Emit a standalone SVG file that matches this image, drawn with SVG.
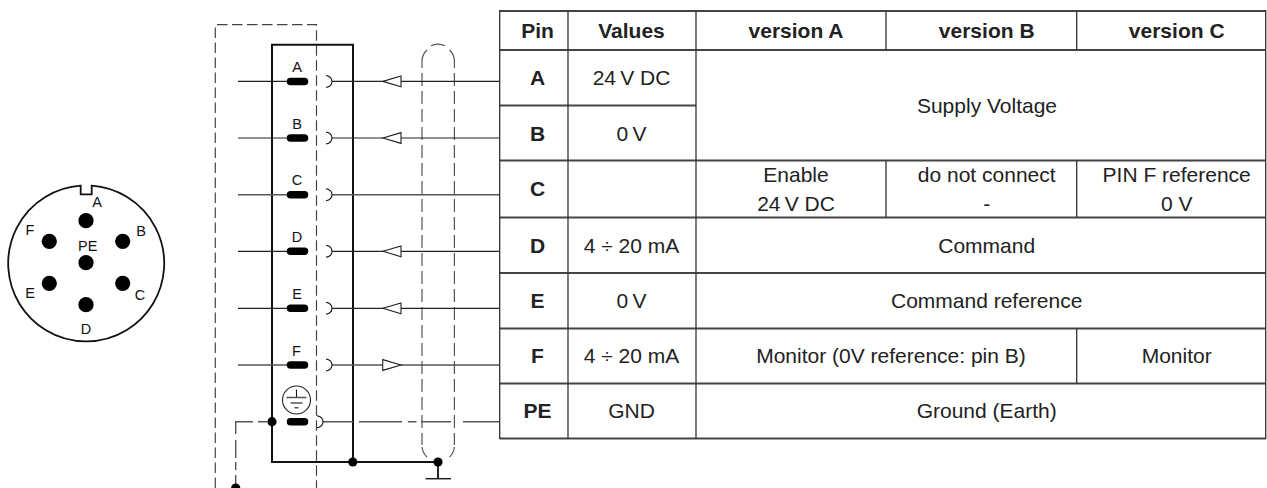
<svg xmlns="http://www.w3.org/2000/svg" width="1267" height="488" viewBox="0 0 1267 488">
<style>
text{font-family:"Liberation Sans",Arial,sans-serif;fill:#222;text-anchor:middle}
.t{font-size:21px}
.b{font-size:21px;font-weight:bold}
.p{font-size:14.5px;fill:#111}
.w{fill:none;stroke:#222;stroke-width:1.2}
.g{fill:none;stroke:#555;stroke-width:1.4}
.k{fill:none;stroke:#111;stroke-width:1.1}
.d{fill:none;stroke:#444;stroke-width:1.2;stroke-dasharray:10.5 4.5}
.s{fill:none;stroke:#555;stroke-width:1.2}
.sd{stroke-dasharray:13 5}
.h{fill:none;stroke:#444;stroke-width:1.8}
.v{fill:none;stroke:#333;stroke-width:1.3}
.tri{fill:#fff;stroke:#222;stroke-width:1.1}
.dot{fill:#000}
.pad{fill:none;stroke:#000;stroke-width:7.5;stroke-linecap:round}
.box{fill:none;stroke:#111;stroke-width:2}
</style>
<g id="connector">
<path d="M80.7 185.6A78 78 0 1 0 91.7 185.6V194.3H80.7Z" fill="none" stroke="#111" stroke-width="1.8"/>
<circle class="dot" cx="86" cy="220.7" r="7.6"/><circle class="dot" cx="122.7" cy="241.3" r="7.6"/><circle class="dot" cx="122.7" cy="283.3" r="7.6"/><circle class="dot" cx="86" cy="304.7" r="7.6"/><circle class="dot" cx="49.3" cy="283.3" r="7.6"/><circle class="dot" cx="49.3" cy="241.3" r="7.6"/><circle class="dot" cx="86" cy="262.7" r="7.6"/>
<text class="p" x="97" y="206.500">A</text><text class="p" x="141" y="235.500">B</text><text class="p" x="140" y="300">C</text><text class="p" x="86" y="334">D</text><text class="p" x="30" y="298">E</text><text class="p" x="30" y="235">F</text><text class="p" x="87.700" y="251">PE</text>
</g>
<g id="enclosure">
<path class="d" d="M215.300 488V24.700H316.500V488"/>
<path class="box" d="M272 44.700H353V462H272Z"/>
</g>
<g id="shield">
<path class="s" d="M431 45.800A16 16 0 0 1 445 45.800"/>
<path class="s" d="M427 50A16 16 0 0 0 422 60V68M449.500 50A16 16 0 0 1 454.400 60V68"/>
<path class="s sd" d="M422 73V445M454.400 73V445"/>
<path class="s" d="M422 447A16 16 0 0 0 427 457M454.400 447A16 16 0 0 1 449.500 457"/>
</g>
<g id="connectors">
<path class="w" d="M238 81.400H290M332 81.400H499"/><path class="w" d="M238 138H290M332 138H499"/>
<path class="g" d="M238 194.700H290M332 194.700H499"/>
<path class="w" d="M238 251.300H290M332 251.300H499"/><path class="w" d="M238 308.300H290M332 308.300H499"/>
<path class="g" d="M238 365H290M332 365H499"/>
<path class="g" d="M323 421.700H353M359 421.700H402M408 421.700H416.500M421 421.700H451M463 421.700H499"/>
<path class="g" d="M235.700 484V475M235.700 470V462M235.700 458V440M235.700 434V421.700H253M258 421.700H267"/>
<path class="k" d="M326 75.500C334 77 334 86 326 87.500M326 132C334 133.500 334 142.500 326 144M326 188.700C334 190.200 334 199.200 326 200.700M326 245.300C334 246.800 334 255.800 326 257.300M326 302.300C334 303.800 334 312.800 326 314.300M326 359C334 360.500 334 369.500 326 371M317 415.700C325 417.200 325 426.200 317 427.700"/>
<path class="tri" d="M383 81.400L401 76V86.800Z"/><path class="tri" d="M383 138L401 132.600V143.400Z"/><path class="tri" d="M383 251.300L401 245.900V256.700Z"/><path class="tri" d="M383 308.300L401 302.900V313.700Z"/><path class="tri" d="M401 365L382.700 359.600V370.400Z"/>
<path d="M272 462H438M438 462V478.500" fill="none" stroke="#111" stroke-width="1.800"/>
<path d="M425.500 478.700H451" fill="none" stroke="#222" stroke-width="1.500"/>
<circle class="dot" cx="352.800" cy="462" r="4.600"/><circle class="dot" cx="438" cy="462" r="4.600"/><circle class="dot" cx="272" cy="421.700" r="4.600"/><circle class="dot" cx="235.700" cy="488" r="4.600"/>
</g>
<g id="pins">
<path class="pad" d="M290.500 81.400H304.500M290.500 138H304.500M290.500 194.700H304.500M290.500 251.300H304.500M290.500 308.300H304.500M290.500 365H304.500M290.500 421.700H304.500"/>
<text class="p" x="297" y="72.300">A</text><text class="p" x="297" y="128.800">B</text><text class="p" x="297" y="185.300">C</text><text class="p" x="297" y="241.700">D</text><text class="p" x="297" y="299">E</text><text class="p" x="296.500" y="355.700">F</text>
</g>
<g id="earth-symbol">
<circle cx="296.500" cy="400" r="14" fill="#fff" stroke="#222" stroke-width="1.100"/>
<path class="k" d="M296.500 389.500V397"/><path class="g" d="M286.500 397.500H306.500M290.500 403H302.500M294.500 407.700H298.500"/>
</g>
<g id="table">
<path class="h" d="M499.700 11H1266M499.700 50H1266M499.700 105.500H696M499.700 160.500H1266M499.700 217.500H1266M499.700 273H1266M499.700 328.500H1266M499.700 383.500H1266M499.700 438.500H1266"/>
<path class="v" d="M499.700 10V439M568 11V438.500M696 11V438.500M886 11V50M886 160.500V217.500M1076.700 11V50M1076.700 160.500V217.500M1076.700 328.500V383.500M1265.700 10V439"/>
<text class="b" x="537.500" y="38">Pin</text><text class="b" x="631.500" y="38">Values</text><text class="b" x="796" y="38">version A</text><text class="b" x="986.700" y="38">version B</text><text class="b" x="1176.700" y="38">version C</text>
<text class="b" x="537.500" y="85">A</text><text class="t" x="631.500" y="85">24&#8201;V DC</text>
<text class="b" x="537.500" y="140.500">B</text><text class="t" x="631.500" y="140.500">0&#8201;V</text>
<text class="t" x="987" y="112.500">Supply Voltage</text>
<text class="b" x="537.500" y="196">C</text>
<text class="t" x="796" y="181.700">Enable</text><text class="t" x="796" y="210.700">24&#8201;V DC</text>
<text class="t" x="986.700" y="181.700">do not connect</text><text class="t" x="986.700" y="210.700">-</text>
<text class="t" x="1176.700" y="181.700">PIN F reference</text><text class="t" x="1176.700" y="210.700">0 V</text>
<text class="b" x="537.500" y="252.500">D</text><text class="t" x="631.500" y="252.500">4 ÷ 20 mA</text><text class="t" x="986.700" y="252.500">Command</text>
<text class="b" x="537.500" y="307.700">E</text><text class="t" x="631.500" y="307.700">0&#8201;V</text><text class="t" x="986.700" y="307.700">Command reference</text>
<text class="b" x="537.500" y="363">F</text><text class="t" x="631.500" y="363">4 ÷ 20 mA</text><text class="t" x="891" y="363">Monitor (0V reference: pin B)</text><text class="t" x="1176.700" y="363">Monitor</text>
<text class="b" x="537.500" y="418">PE</text><text class="t" x="631.500" y="418">GND</text><text class="t" x="986.700" y="418">Ground (Earth)</text>
</g>
</svg>
